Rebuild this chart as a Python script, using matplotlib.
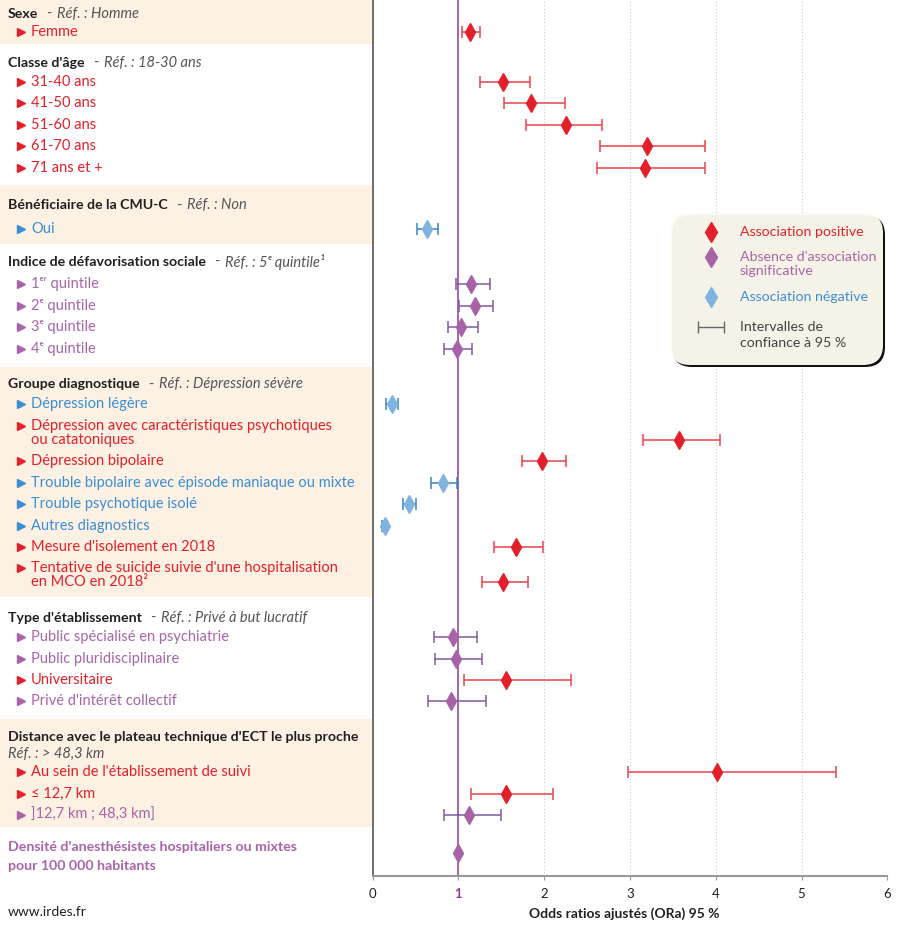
import matplotlib
matplotlib.use("Agg")
import matplotlib.pyplot as plt
from matplotlib.patches import Rectangle, FancyBboxPatch
from matplotlib.transforms import blended_transform_factory

plt.rcParams['font.family'] = ['Lato', 'DejaVu Sans']

# --- data ---
group_names = ["Sexe", "Classe d'âge", "Bénéficiaire de la CMU-C",
               "Indice de défavorisation sociale", "Groupe diagnostique",
               "Type d'établissement",
               "Distance avec le plateau technique d'ECT le plus proche"]
group_refs = ["Réf. : Homme", "Réf. : 18-30 ans", "Réf. : Non",
              "Réf. : 5ᵉ quintile¹", "Réf. : Dépression sévère",
              "Réf. : Privé à but lucratif", "Réf. : > 48,3 km"]
group_sizes = [1, 5, 1, 4, 8, 4, 3]

item_labels = ["Femme",
               "31-40 ans", "41-50 ans", "51-60 ans", "61-70 ans", "71 ans et +",
               "Oui",
               "1ᵉʳ quintile", "2ᵉ quintile", "3ᵉ quintile", "4ᵉ quintile",
               "Dépression légère",
               "Dépression avec caractéristiques psychotiques\nou catatoniques",
               "Dépression bipolaire",
               "Trouble bipolaire avec épisode maniaque ou mixte",
               "Trouble psychotique isolé",
               "Autres diagnostics",
               "Mesure d'isolement en 2018",
               "Tentative de suicide suivie d'une hospitalisation\nen MCO en 2018²",
               "Public spécialisé en psychiatrie", "Public pluridisciplinaire",
               "Universitaire", "Privé d'intérêt collectif",
               "Au sein de l'établissement de suivi", "≤ 12,7 km",
               "]12,7 km ; 48,3 km]"]
or_est = [1.13,
          1.52, 1.85, 2.25, 3.20, 3.17,
          0.63,
          1.15, 1.19, 1.03, 0.98,
          0.23, 3.57, 1.97, 0.82, 0.42, 0.14, 1.67, 1.52,
          0.94, 0.97, 1.56, 0.91,
          4.01, 1.55, 1.12]
ci_low = [1.04,
          1.25, 1.53, 1.79, 2.65, 2.61,
          0.52,
          0.97, 1.01, 0.88, 0.83,
          0.16, 3.15, 1.74, 0.68, 0.35, 0.11, 1.42, 1.27,
          0.71, 0.73, 1.06, 0.64,
          2.98, 1.15, 0.83]
ci_high = [1.25,
           1.83, 2.24, 2.67, 3.87, 3.87,
           0.76,
           1.37, 1.40, 1.23, 1.16,
           0.30, 4.05, 2.25, 0.98, 0.50, 0.17, 1.98, 1.81,
           1.22, 1.27, 2.31, 1.32,
           5.40, 2.10, 1.50]
assoc = ['pos',
         'pos', 'pos', 'pos', 'pos', 'pos',
         'neg',
         'ns', 'ns', 'ns', 'ns',
         'neg', 'pos', 'pos', 'neg', 'neg', 'neg', 'pos', 'pos',
         'ns', 'ns', 'pos', 'ns',
         'pos', 'pos', 'ns']

density_label = "Densité d'anesthésistes hospitaliers ou mixtes\npour 100 000 habitants"
density_or = 1.0

tick_vals = [0, 1, 2, 3, 4, 5, 6]

# --- styles / layout ---
text_col = {'pos': '#e3202a', 'ns': '#a864a8', 'neg': '#3a8ed6'}
mark_col = {'pos': '#e3202a', 'ns': '#a862a8', 'neg': '#80b3e0'}
bar_col = {'pos': '#e6444a', 'ns': '#7f5aa6', 'neg': '#3b82c4'}
dark = '#231f20'
band = '#fdf1e4'
pad_top = [14, 19, 20, 18, 17, 21, 18]
head_gap = [18, 19, 24, 22, 20, 19, 18]
pad_bottom = [12, 18, 15, 19, 15, 18, 12]
step = 21.5
fs = 10.5
hfs = 10.2

W, H = 900, 926
fig = plt.figure(figsize=(W / 100, H / 100), dpi=100)
ax = fig.add_axes([372.7 / W, 50 / H, (887.3 - 372.7) / W, 876 / H])

# --- row layout (pixel-like units from top) ---
rows_y, text_y, headers_y, bands = [], [], [], []
y = 0
k = 0
for g, n in enumerate(group_sizes):
    top = y
    y += pad_top[g]
    headers_y.append(y)
    if g == len(group_sizes) - 1:
        y += 17
    y += head_gap[g] - step
    for j in range(n):
        y += step
        text_y.append(y)
        if '\n' in item_labels[k]:
            y += 14
        rows_y.append(y)
        k += 1
    y += pad_bottom[g]
    bands.append((top, y))
dens_text_y = y + 20
dens_y = dens_text_y + 6
y_end = dens_text_y + 19 + 10

ax.set_xlim(0, 6)
ax.set_ylim(y_end, 0)

trans = blended_transform_factory(fig.transFigure, ax.transData)

# bands behind the label column
for g, (t, b) in enumerate(bands):
    if g % 2 == 0:
        ax.add_patch(Rectangle((0, t), 372 / W, b - t, transform=trans,
                               facecolor=band, edgecolor='none',
                               clip_on=False, zorder=0))

# grid + reference line
for v in tick_vals[2:]:
    ax.axvline(v, color='#cccccc', lw=0.8, ls=(0, (1, 2)), zorder=1)
ax.axvline(1, color='#a464ac', lw=1.4, zorder=2)

# error bars and diamonds
for i in range(len(or_est)):
    a = assoc[i]
    ax.errorbar(or_est[i], rows_y[i],
                xerr=[[or_est[i] - ci_low[i]], [ci_high[i] - or_est[i]]],
                fmt='none', ecolor=bar_col[a], elinewidth=1.1, capsize=4,
                capthick=1.1, zorder=3)
    ax.plot(or_est[i], rows_y[i], marker='d', ms=9, color=mark_col[a],
            ls='none', zorder=5)
ax.plot(density_or, dens_y, marker='d', ms=9, color=mark_col['ns'],
        ls='none', zorder=5)

# labels
fig.canvas.draw()
renderer = fig.canvas.get_renderer()
for g in range(len(group_names)):
    hy = headers_y[g]
    t = ax.text(8 / W, hy, group_names[g], transform=trans, ha='left',
                va='center', fontsize=hfs, fontweight='bold', color=dark)
    if g == len(group_names) - 1:
        ax.text(8 / W, hy + 17, group_refs[g], transform=trans, ha='left',
                va='center', fontsize=fs, style='italic', color='#555555')
    else:
        bb = t.get_window_extent(renderer)
        x1 = bb.x1
        ax.text((x1 + 8) / W, hy, "-", transform=trans, ha='left',
                va='center', fontsize=fs, color='#555555')
        ax.text((x1 + 19) / W, hy, group_refs[g], transform=trans, ha='left',
                va='center', fontsize=fs, style='italic', color='#555555')

for i, lbl in enumerate(item_labels):
    c = text_col[assoc[i]]
    ax.plot([21 / W], [text_y[i]], marker='>', ms=5.5, color=c, ls='none',
            transform=trans, clip_on=False)
    for j, line in enumerate(lbl.split('\n')):
        ax.text(31 / W, text_y[i] + j * 14, line, transform=trans, ha='left',
                va='center', fontsize=fs, color=c)

for j, line in enumerate(density_label.split('\n')):
    ax.text(8 / W, dens_text_y + j * 19, line, transform=trans, ha='left',
            va='center', fontsize=hfs, fontweight='bold', color=text_col['ns'])

# axes styling
for s in ['top', 'right']:
    ax.spines[s].set_visible(False)
ax.spines['left'].set_color('#555555')
ax.spines['left'].set_linewidth(1.2)
ax.spines['bottom'].set_color('#999999')
ax.spines['bottom'].set_linewidth(1.5)
ax.set_yticks([])
ax.set_xticks(tick_vals)
ax.set_xticklabels([str(v) for v in tick_vals])
ax.tick_params(axis='x', length=3, color='#999999', labelsize=9.5, pad=6,
               labelcolor=dark)
lab1 = ax.get_xticklabels()[1]
lab1.set_color('#8e3d96')
lab1.set_fontweight('bold')

fig.text(624 / W, 1 - 914 / H, "Odds ratios ajustés (ORa) 95 %", ha='center',
         va='center', fontsize=10, fontweight='bold', color=dark)
fig.text(8 / W, 1 - 912 / H, "www.irdes.fr", ha='left', va='center',
         fontsize=10, color=dark)

# legend box
lfs = 10.2
lax = fig.add_axes([665 / W, 1 - 375 / H, 230 / W, 170 / H])
lax.set_xlim(665, 895)
lax.set_ylim(375, 205)
lax.axis('off')
lax.add_patch(FancyBboxPatch((672, 215), 213, 152,
                             boxstyle="round,pad=0,rounding_size=20",
                             facecolor='#111111', edgecolor='none'))
lax.add_patch(FancyBboxPatch((670, 213), 213, 152,
                             boxstyle="round,pad=0,rounding_size=20",
                             facecolor='#fefcf0', edgecolor='none', alpha=0.97))
lax.plot([711], [232], marker='d', ms=10, color=mark_col['pos'])
lax.text(740, 232, "Association positive", va='center', fontsize=lfs,
         color=text_col['pos'])
lax.plot([711], [257], marker='d', ms=10, color=mark_col['ns'])
lax.text(740, 257, "Absence d'association", va='center', fontsize=lfs,
         color=text_col['ns'])
lax.text(740, 271, "significative", va='center', fontsize=lfs,
         color=text_col['ns'])
lax.plot([711], [297], marker='d', ms=10, color=mark_col['neg'])
lax.text(740, 297, "Association négative", va='center', fontsize=lfs,
         color=text_col['neg'])
lax.errorbar([711], [327], xerr=[[13], [13]], fmt='none', ecolor='#666666',
             elinewidth=1, capsize=4)
lax.text(740, 327, "Intervalles de", va='center', fontsize=lfs, color='#444444')
lax.text(740, 343, "confiance à 95 %", va='center', fontsize=lfs,
         color='#444444')

fig.savefig("out.png", dpi=100)
